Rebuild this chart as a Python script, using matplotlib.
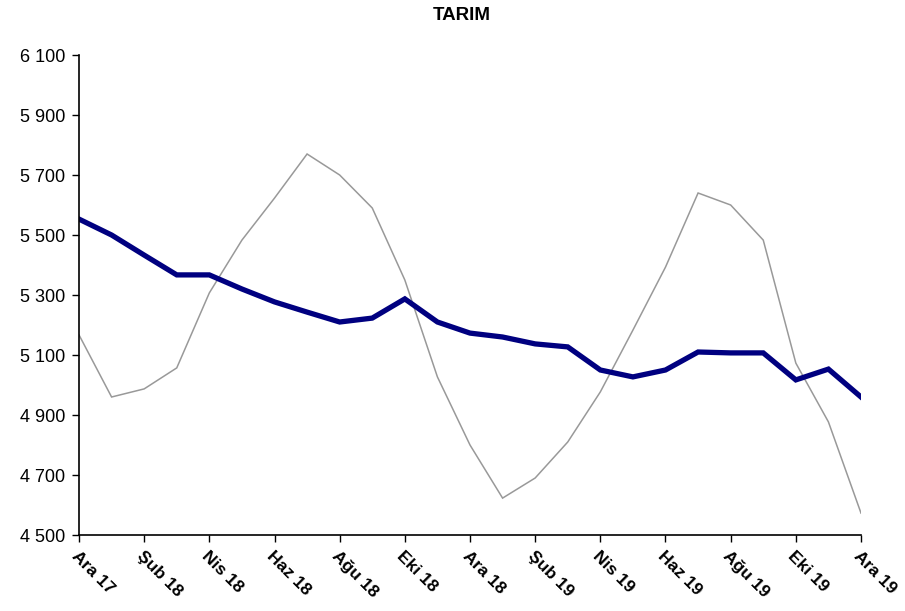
import matplotlib
matplotlib.use("Agg")
import matplotlib.pyplot as plt
from matplotlib.ticker import FuncFormatter

plt.rcParams['font.family'] = ['Liberation Sans', 'DejaVu Sans']

months = ["Ara 17", "Oca 18", "Şub 18", "Mar 18", "Nis 18", "May 18", "Haz 18", "Tem 18",
          "Ağu 18", "Eyl 18", "Eki 18", "Kas 18", "Ara 18", "Oca 19", "Şub 19", "Mar 19",
          "Nis 19", "May 19", "Haz 19", "Tem 19", "Ağu 19", "Eyl 19", "Eki 19", "Kas 19", "Ara 19"]

trend = [5553, 5500, 5433, 5367, 5367, 5320, 5277, 5243, 5210, 5223, 5287, 5210, 5173,
         5160, 5137, 5127, 5050, 5027, 5050, 5110, 5107, 5107, 5017, 5053, 4960]

raw = [5167, 4960, 4987, 5057, 5307, 5483, 5623, 5770, 5700, 5590, 5350, 5027, 4800,
       4623, 4690, 4810, 4977, 5183, 5393, 5640, 5600, 5483, 5073, 4877, 4573]

y_ticks = [4500, 4700, 4900, 5100, 5300, 5500, 5700, 5900, 6100]

fig = plt.figure(figsize=(9.05, 6.11), dpi=100)
ax = fig.add_axes([79/905, 1-535/611, (861-79)/905, (535-55)/611])

x = list(range(len(months)))
ax.plot(x, raw, color='#999999', lw=1.1, solid_joinstyle='miter')
ax.plot(x, trend, color='#000080', lw=3.8, solid_joinstyle='miter')

ax.set_xlim(0, len(months) - 1)
ax.set_ylim(4500, 6100)
ax.set_yticks(y_ticks)
ax.yaxis.set_major_formatter(FuncFormatter(lambda v, p: f"{int(v):,}".replace(",", " ")))
ax.set_xticks(x[::2])
ax.set_xticklabels(months[::2], rotation=-45, ha='left', va='top', rotation_mode='anchor',
                   fontweight='bold', fontsize=12.5)
ax.tick_params(axis='y', labelsize=13, length=5, width=1, pad=5, direction='out')
ax.tick_params(axis='x', length=5, width=1, pad=5, direction='out')

for s in ['top', 'right']:
    ax.spines[s].set_visible(False)
for s in ['left', 'bottom']:
    ax.spines[s].set_linewidth(1.2)

fig.text(462/905, 1-16/611, "TARIM", ha='center', va='center', fontweight='bold', fontsize=13.5)

fig.savefig("out.png", dpi=100)
